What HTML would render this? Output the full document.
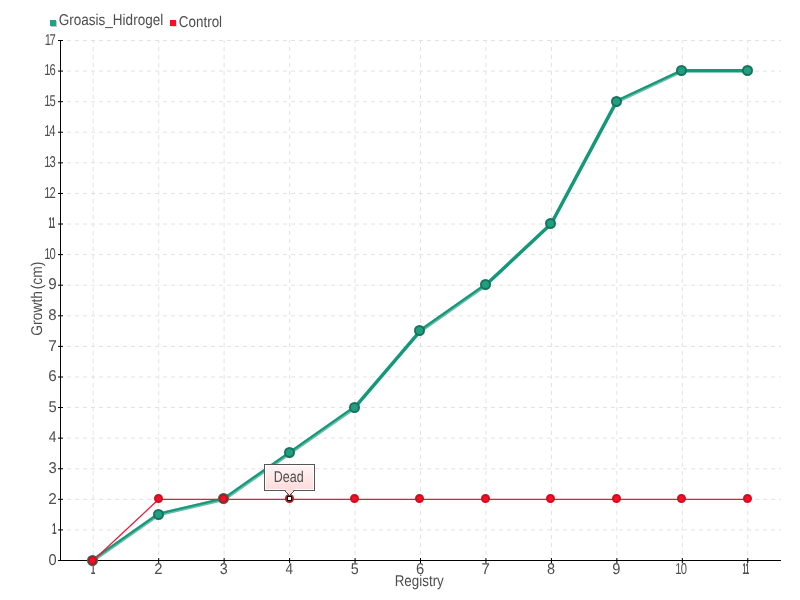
<!DOCTYPE html>
<html lang="en">
<head>
<meta charset="utf-8">
<title>Growth chart</title>
<style>
html,body{margin:0;padding:0;background:#fff;}
body{width:800px;height:600px;overflow:hidden;}
svg{display:block;}
text{font-family:"Liberation Sans",sans-serif;text-rendering:geometricPrecision;font-size:15.6px;fill:#4e4e4e;}
</style>
</head>
<body>
<svg width="800" height="600" viewBox="0 0 800 600">
<defs>
<linearGradient id="tip" x1="0" y1="0" x2="0" y2="1">
<stop offset="0" stop-color="#fff6f6"/>
<stop offset="1" stop-color="#ffdada"/>
</linearGradient>
</defs>
<rect x="0" y="0" width="800" height="600" fill="#ffffff"/>

<g stroke="#e2e2e2" stroke-width="1" stroke-dasharray="4 4" fill="none">
<line x1="59" y1="560.50" x2="781" y2="560.50"/>
<line x1="59" y1="529.91" x2="781" y2="529.91"/>
<line x1="59" y1="499.32" x2="781" y2="499.32"/>
<line x1="59" y1="468.74" x2="781" y2="468.74"/>
<line x1="59" y1="438.15" x2="781" y2="438.15"/>
<line x1="59" y1="407.56" x2="781" y2="407.56"/>
<line x1="59" y1="376.97" x2="781" y2="376.97"/>
<line x1="59" y1="346.38" x2="781" y2="346.38"/>
<line x1="59" y1="315.79" x2="781" y2="315.79"/>
<line x1="59" y1="285.21" x2="781" y2="285.21"/>
<line x1="59" y1="254.62" x2="781" y2="254.62"/>
<line x1="59" y1="224.03" x2="781" y2="224.03"/>
<line x1="59" y1="193.44" x2="781" y2="193.44"/>
<line x1="59" y1="162.85" x2="781" y2="162.85"/>
<line x1="59" y1="132.26" x2="781" y2="132.26"/>
<line x1="59" y1="101.68" x2="781" y2="101.68"/>
<line x1="59" y1="71.09" x2="781" y2="71.09"/>
<line x1="59" y1="40.50" x2="781" y2="40.50"/>
<line x1="93.23" y1="563" x2="93.23" y2="40.5"/>
<line x1="158.68" y1="563" x2="158.68" y2="40.5"/>
<line x1="224.14" y1="563" x2="224.14" y2="40.5"/>
<line x1="289.59" y1="563" x2="289.59" y2="40.5"/>
<line x1="355.05" y1="563" x2="355.05" y2="40.5"/>
<line x1="420.50" y1="563" x2="420.50" y2="40.5"/>
<line x1="485.95" y1="563" x2="485.95" y2="40.5"/>
<line x1="551.41" y1="563" x2="551.41" y2="40.5"/>
<line x1="616.86" y1="563" x2="616.86" y2="40.5"/>
<line x1="682.32" y1="563" x2="682.32" y2="40.5"/>
<line x1="747.77" y1="563" x2="747.77" y2="40.5"/>
</g>
<g stroke="#000" stroke-width="1" fill="none">
<line x1="60.5" y1="40" x2="60.5" y2="561"/>
<line x1="60" y1="560.5" x2="781" y2="560.5"/>
<line x1="58" y1="560.50" x2="63" y2="560.50"/>
<line x1="58" y1="529.91" x2="63" y2="529.91"/>
<line x1="58" y1="499.32" x2="63" y2="499.32"/>
<line x1="58" y1="468.74" x2="63" y2="468.74"/>
<line x1="58" y1="438.15" x2="63" y2="438.15"/>
<line x1="58" y1="407.56" x2="63" y2="407.56"/>
<line x1="58" y1="376.97" x2="63" y2="376.97"/>
<line x1="58" y1="346.38" x2="63" y2="346.38"/>
<line x1="58" y1="315.79" x2="63" y2="315.79"/>
<line x1="58" y1="285.21" x2="63" y2="285.21"/>
<line x1="58" y1="254.62" x2="63" y2="254.62"/>
<line x1="58" y1="224.03" x2="63" y2="224.03"/>
<line x1="58" y1="193.44" x2="63" y2="193.44"/>
<line x1="58" y1="162.85" x2="63" y2="162.85"/>
<line x1="58" y1="132.26" x2="63" y2="132.26"/>
<line x1="58" y1="101.68" x2="63" y2="101.68"/>
<line x1="58" y1="71.09" x2="63" y2="71.09"/>
<line x1="58" y1="40.50" x2="63" y2="40.50"/>
<line x1="93.23" y1="558" x2="93.23" y2="563"/>
<line x1="158.68" y1="558" x2="158.68" y2="563"/>
<line x1="224.14" y1="558" x2="224.14" y2="563"/>
<line x1="289.59" y1="558" x2="289.59" y2="563"/>
<line x1="355.05" y1="558" x2="355.05" y2="563"/>
<line x1="420.50" y1="558" x2="420.50" y2="563"/>
<line x1="485.95" y1="558" x2="485.95" y2="563"/>
<line x1="551.41" y1="558" x2="551.41" y2="563"/>
<line x1="616.86" y1="558" x2="616.86" y2="563"/>
<line x1="682.32" y1="558" x2="682.32" y2="563"/>
<line x1="747.77" y1="558" x2="747.77" y2="563"/>
</g>
<g>
<text transform="translate(48.43 564.70) scale(0.9387 1)">0</text>
<text transform="translate(52.09 534.11) scale(0.5235 1)" font-weight="bold" fill="#444">1</text>
<text transform="translate(48.23 503.52) scale(0.9850 1)">2</text>
<text transform="translate(48.44 472.94) scale(0.9464 1)">3</text>
<text transform="translate(48.68 442.35) scale(0.8905 1)">4</text>
<text transform="translate(48.41 411.76) scale(0.9464 1)">5</text>
<text transform="translate(48.23 381.17) scale(0.9725 1)">6</text>
<text transform="translate(48.21 350.58) scale(0.9871 1)">7</text>
<text transform="translate(48.35 319.99) scale(0.9563 1)">8</text>
<text transform="translate(48.29 289.41) scale(0.9714 1)">9</text>
<text transform="translate(44.14 258.82) scale(0.7200 1)" fill="#3c3c3c" letter-spacing="-1.388">10</text>
<text transform="translate(48.59 228.23) scale(0.4200 1)" font-weight="bold" fill="#444" letter-spacing="-1.173">11</text>
<text transform="translate(44.14 197.64) scale(0.7200 1)" fill="#3c3c3c" letter-spacing="-1.212">12</text>
<text transform="translate(44.14 167.05) scale(0.7200 1)" fill="#3c3c3c" letter-spacing="-1.311">13</text>
<text transform="translate(44.14 136.46) scale(0.7200 1)" fill="#3c3c3c" letter-spacing="-1.540">14</text>
<text transform="translate(44.14 105.88) scale(0.7200 1)" fill="#3c3c3c" letter-spacing="-1.342">15</text>
<text transform="translate(44.14 75.29) scale(0.7200 1)" fill="#3c3c3c" letter-spacing="-1.311">16</text>
<text transform="translate(44.74 44.70) scale(0.7200 1)" fill="#3c3c3c" letter-spacing="-2.185">17</text>
</g>
<g>
<text transform="translate(90.71 573.80) scale(0.5235 1)" font-weight="bold" fill="#444">1</text>
<text transform="translate(154.13 573.80) scale(0.9568 1)">2</text>
<text transform="translate(219.79 573.80) scale(0.9194 1)">3</text>
<text transform="translate(285.48 573.80) scale(0.8650 1)">4</text>
<text transform="translate(350.67 573.80) scale(0.9194 1)">5</text>
<text transform="translate(415.95 573.80) scale(0.9447 1)">6</text>
<text transform="translate(481.39 573.80) scale(0.9589 1)">7</text>
<text transform="translate(546.98 573.80) scale(0.9289 1)">8</text>
<text transform="translate(612.37 573.80) scale(0.9437 1)">9</text>
<text transform="translate(675.14 573.80) scale(0.7200 1)" fill="#3c3c3c" letter-spacing="-0.971">10</text>
<text transform="translate(742.59 573.80) scale(0.4200 1)" font-weight="bold" fill="#444" letter-spacing="-0.697">11</text>
</g>
<text transform="translate(394.70 585.80) scale(0.8586 1)">Registry</text>
<text transform="translate(41.8 335.70) rotate(-90) scale(0.8880 1)" word-spacing="-2.4">Growth (cm)</text>
<rect x="51" y="21" width="6" height="6" fill="#c4c4c4"/>
<rect x="50" y="20" width="6" height="6" fill="#1fa386"/>
<text transform="translate(58.82 24.80) scale(0.8661 1)">Groasis_Hidrogel</text>
<rect x="171" y="21" width="6" height="6" fill="#dcdcdc"/>
<rect x="170" y="20" width="6" height="6" fill="#ff0a28"/>
<text transform="translate(178.82 26.80) scale(0.8606 1)">Control</text>
<path d="M93.08 560.30L158.53 514.42M158.53 514.42L223.99 499.12M223.99 499.12L289.44 453.24M289.44 453.24L354.90 407.36M420.35 330.89L485.80 285.01M616.71 101.48L682.17 70.89" fill="none" stroke="#15977a" stroke-width="3.8" stroke-opacity="0.65" stroke-linecap="butt"/>
<path d="M92.68 559.73L158.13 513.84M158.37 513.74L223.83 498.44M223.58 498.55L289.04 452.67M289.04 452.67L354.49 406.79M419.95 330.32L485.40 284.43M616.42 100.84L681.87 70.25" fill="none" stroke="#15977a" stroke-width="2" stroke-linecap="butt"/>
<path d="M354.85 407.31L420.30 330.84M485.75 284.96L551.21 223.78M551.21 223.78L616.66 101.43M682.32 70.74L747.77 70.74" fill="none" stroke="#15977a" stroke-width="3.5" stroke-linecap="round"/>
<circle cx="92.5" cy="560.5" r="4.55" fill="#1f9e82" stroke="#16735c" stroke-width="1.9"/>
<circle cx="158.5" cy="514.5" r="4.55" fill="#1f9e82" stroke="#16735c" stroke-width="1.9"/>
<circle cx="223.5" cy="498.5" r="4.55" fill="#1f9e82" stroke="#16735c" stroke-width="1.9"/>
<circle cx="289.5" cy="452.5" r="4.55" fill="#1f9e82" stroke="#16735c" stroke-width="1.9"/>
<circle cx="354.5" cy="407.5" r="4.55" fill="#1f9e82" stroke="#16735c" stroke-width="1.9"/>
<circle cx="419.5" cy="330.5" r="4.55" fill="#1f9e82" stroke="#16735c" stroke-width="1.9"/>
<circle cx="485.5" cy="284.5" r="4.55" fill="#1f9e82" stroke="#16735c" stroke-width="1.9"/>
<circle cx="550.5" cy="223.5" r="4.55" fill="#1f9e82" stroke="#16735c" stroke-width="1.9"/>
<circle cx="616.5" cy="101.5" r="4.55" fill="#1f9e82" stroke="#16735c" stroke-width="1.9"/>
<circle cx="681.5" cy="70.5" r="4.55" fill="#1f9e82" stroke="#16735c" stroke-width="1.9"/>
<circle cx="747.5" cy="70.5" r="4.55" fill="#1f9e82" stroke="#16735c" stroke-width="1.9"/>
<polyline points="93.23,560.50 158.68,499.32 224.14,499.32 289.59,499.32 355.05,499.32 420.50,499.32 485.95,499.32 551.41,499.32 616.86,499.32 682.32,499.32 747.77,499.32" fill="none" stroke="#f0183a" stroke-width="1.25" stroke-linejoin="round"/>
<circle cx="92.5" cy="560.5" r="3.55" fill="#ff0a28" stroke="#c4121e" stroke-width="1.9"/>
<circle cx="158.5" cy="498.5" r="3.55" fill="#ff0a28" stroke="#c4121e" stroke-width="1.9"/>
<circle cx="223.5" cy="498.5" r="3.55" fill="#ff0a28" stroke="#c4121e" stroke-width="1.9"/>
<circle cx="289.5" cy="498.5" r="3.55" fill="#ff0a28" stroke="#c4121e" stroke-width="1.9"/>
<circle cx="354.5" cy="498.5" r="3.55" fill="#ff0a28" stroke="#c4121e" stroke-width="1.9"/>
<circle cx="419.5" cy="498.5" r="3.55" fill="#ff0a28" stroke="#c4121e" stroke-width="1.9"/>
<circle cx="485.5" cy="498.5" r="3.55" fill="#ff0a28" stroke="#c4121e" stroke-width="1.9"/>
<circle cx="550.5" cy="498.5" r="3.55" fill="#ff0a28" stroke="#c4121e" stroke-width="1.9"/>
<circle cx="616.5" cy="498.5" r="3.55" fill="#ff0a28" stroke="#c4121e" stroke-width="1.9"/>
<circle cx="681.5" cy="498.5" r="3.55" fill="#ff0a28" stroke="#c4121e" stroke-width="1.9"/>
<circle cx="747.5" cy="498.5" r="3.55" fill="#ff0a28" stroke="#c4121e" stroke-width="1.9"/>
<rect x="264.5" y="464.5" width="50" height="26" fill="url(#tip)" stroke="#555" stroke-width="1"/>
<rect x="265.5" y="465.5" width="48" height="24" fill="none" stroke="#ffffff" stroke-width="1"/>
<path d="M284.5 489L289.5 495.5L294.5 489Z" fill="#ffdddd"/>
<path d="M284.5 490.5L289.5 495.5L294.5 490.5" fill="none" stroke="#444" stroke-width="1"/>
<text transform="translate(273.78 481.80) scale(0.7998 1)">Dead</text>
<rect x="287.5" y="496.5" width="4" height="4" fill="#fff" stroke="#000" stroke-width="1"/>
</svg>
</body>
</html>
